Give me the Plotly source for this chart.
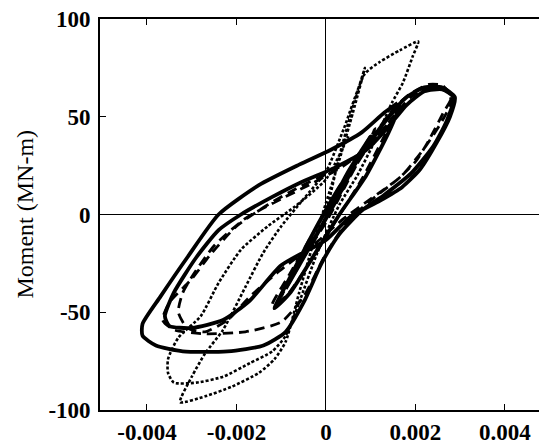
import plotly.graph_objects as go

# Solid series (curvature, moment)
solid_x = [0, 0.0005, 0.0010, 0.0007, 0.0002, -0.0004, -0.0009, -0.0006, -0.0001, 0.0006, 0.0012, 0.00165,
           0.0014, 0.0009, 0.0003, -0.0003, -0.0008, -0.00115, -0.0008, -0.0003, 0.0003, 0.0009, 0.0014, 0.0018,
           0.0022, 0.0026, 0.00288, 0.00277, 0.00248, 0.0021, 0.0017, 0.0012, 0.00055, 0.0, -0.001, -0.0017,
           -0.0023, -0.003, -0.0035, -0.0036, -0.0034, -0.0029, -0.0024, -0.0019, -0.0012, -0.0006, 0.0002,
           0.0009, 0.0014, 0.0018, 0.0022, 0.0026, 0.00285, 0.0027, 0.0024, 0.0019, 0.0013, 0.0008, 0.0003,
           -0.0001, -0.0005, -0.0009, -0.0014, -0.0022, -0.0032, -0.0038, -0.0041, -0.0041, -0.0037, -0.0031,
           -0.0024, -0.0015, -0.0006, 0.0001, 0.0008, 0.0013, 0.0016]
solid_y = [0, 22, 40, 28, 6, -18, -38, -26, -6, 24, 44, 56,
           42, 20, 0, -22, -40, -48, -32, -10, 14, 34, 50, 60,
           65, 65, 60, 50, 37, 23, 14, 7, -1, -13, -26, -44,
           -54, -58, -57, -52, -40, -22, -8, 0, 9, 16, 24,
           33, 45, 56, 63, 64, 60, 48, 35, 21, 10, 2, -10,
           -25, -45, -60, -67, -70, -70, -67, -62, -56, -42, -22,
           0, 15, 25.5, 33, 42, 52, 57]

# Dashed series
dashed_x = [0, 0.0006, 0.0011, 0.0007, 0.0001, -0.0005, -0.0010, -0.0006, 0.0, 0.0007, 0.0013, 0.0016,
            0.0013, 0.0008, 0.0002, -0.0004, -0.0009, -0.0012, -0.0008, -0.0002, 0.0004, 0.001, 0.0015,
            0.0019, 0.0023, 0.0026, 0.0028, 0.00262, 0.0023, 0.002, 0.0016, 0.001, 0.0004, -0.0002,
            -0.0011, -0.0017, -0.0022, -0.0027, -0.0031, -0.0033, -0.0032, -0.003, -0.0025, -0.0018,
            -0.001, -0.0003, 0.0004, 0.001, 0.0015, 0.0019, 0.0023, 0.0027, 0.0028, 0.0026, 0.0022,
            0.0017, 0.0011, 0.0005, 0.0, -0.0005, -0.001, -0.0018, -0.0027, -0.0034, -0.00365, -0.0035,
            -0.0030, -0.0026, -0.002, -0.0013, -0.0006, 0.0002, 0.0009, 0.0014]
dashed_y = [0, 25, 44, 26, 2, -22, -42, -25, -4, 26, 47, 55,
            40, 18, -4, -26, -42, -46, -30, -6, 18, 38, 54,
            62, 66.5, 66, 60, 52, 38, 27, 18, 8, -2, -14,
            -30, -42, -54, -60, -58, -50, -40, -32, -16, -2,
            8, 16, 25, 36, 50, 60, 65, 63, 58, 48, 34,
            20, 9, -3, -20, -42, -55, -60, -61, -59, -54, -45,
            -33, -21, -6, 5, 14, 23, 34, 47]

# Dotted series
dotted_x = [0, 0.0003, 0.0006, 0.00087, 0.0006, 0.0003, 0.0, -0.0003, -0.0006, -0.0009, -0.00115, -0.0015,
            -0.0021, -0.0027, -0.00326, -0.003, -0.0027, -0.0023, -0.0018, -0.0014, -0.001, -0.0005, 0.0,
            0.0004, 0.00087, 0.0012, 0.00165, 0.00206, 0.00194, 0.00172, 0.00147, 0.0011, 0.0007, 0.0003,
            -0.0002, -0.0006, -0.0009, -0.0012, -0.0017, -0.0023, -0.0029, -0.0034, -0.00353, -0.00353,
            -0.0033, -0.0028, -0.0024, -0.0019, -0.0013, -0.0007, 0.0, 0.0005]
dotted_y = [0, 30, 55, 75, 52, 28, 6, -16, -40, -65, -74, -81,
            -88, -93, -96, -83, -71, -59, -37, -19.5, -6, 8, 22,
            44, 72, 78, 84, 88.5, 81, 67.5, 57, 38, 20, 5,
            -20, -45, -62, -70, -76, -83, -86, -86, -81, -74,
            -63, -52, -35, -18, -6, 4, 18, 40]

x_ticks = [-0.004, -0.002, 0, 0.002, 0.004]
x_labels = ["-0.004", "-0.002", "0", "0.002", "0.004"]
y_ticks = [-100, -50, 0, 50, 100]
y_labels = ["-100", "-50", "0", "50", "100"]

fig = go.Figure()
fig.add_trace(go.Scatter(x=dotted_x, y=dotted_y, mode="lines",
                         line=dict(color="black", width=2.6, dash="3px,2px", shape="spline", smoothing=0.6)))
fig.add_trace(go.Scatter(x=dashed_x, y=dashed_y, mode="lines",
                         line=dict(color="black", width=2.8, dash="10px,6px", shape="spline", smoothing=0.6)))
fig.add_trace(go.Scatter(x=solid_x, y=solid_y, mode="lines",
                         line=dict(color="black", width=3.8, shape="spline", smoothing=0.6)))

tickfont = dict(family="Liberation Serif", size=23, color="black", weight="bold")
fig.update_layout(
    width=539, height=447,
    margin=dict(l=100, r=0, t=19, b=37),
    paper_bgcolor="white", plot_bgcolor="white",
    showlegend=False,
    xaxis=dict(range=[-0.00505, 0.00476], tickvals=x_ticks, ticktext=x_labels,
               ticks="inside", ticklen=6, tickwidth=1.3, tickcolor="black",
               showline=True, linecolor="black", linewidth=1.6, mirror="ticks",
               showgrid=False, zeroline=True, zerolinecolor="black", zerolinewidth=1.3,
               tickfont=tickfont, ticklabelstandoff=1),
    yaxis=dict(range=[-100, 100], tickvals=y_ticks, ticktext=y_labels,
               ticks="inside", ticklen=6, tickwidth=1.3, tickcolor="black",
               showline=True, linecolor="black", linewidth=1.6, mirror=False,
               showgrid=False, zeroline=True, zerolinecolor="black", zerolinewidth=1.3,
               tickfont=tickfont, ticklabelstandoff=3),
    annotations=[dict(text="Moment (MN-m)", xref="paper", yref="paper",
                      x=-0.173, y=0.5, textangle=-90, showarrow=False,
                      xanchor="center", yanchor="middle",
                      font=dict(family="Liberation Serif", size=24, color="black"))],
)
fig.write_html("out.html", config={"displayModeBar": False},
               post_script="document.body.style.margin='0px';document.body.style.overflow='hidden';")
